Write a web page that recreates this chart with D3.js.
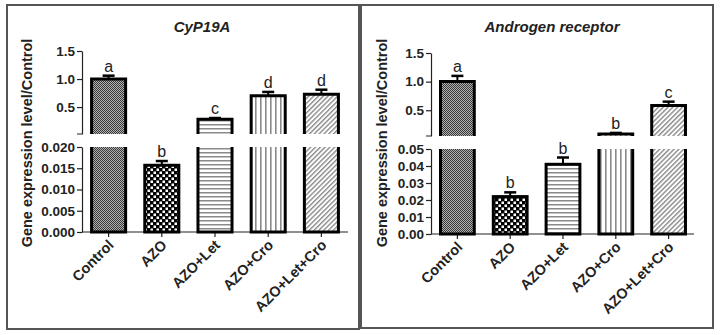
<!DOCTYPE html>
<html>
<head>
<script src="https://d3js.org/d3.v7.min.js"></script>
<style>
  body { margin: 0; background: #fff; }
  text { font-family: Arial, "Liberation Sans", sans-serif; fill: #222; }
</style>
</head>
<body>
<svg width="721" height="335"></svg>
<script>
"use strict";

var groups = ["Control", "AZO", "AZO+Let", "AZO+Cro", "AZO+Let+Cro"];

var cypMean = [1.0, 0.0157, 0.285, 0.70, 0.73];
var cypErr = [0.06, 0.001, 0.02, 0.07, 0.08];
var cypLetters = ["a", "b", "c", "d", "d"];
var cypUpperTicks = [0.5, 1.0, 1.5];
var cypLowerTicks = [0, 0.005, 0.01, 0.015, 0.02];

var arMean = [1.0, 0.022, 0.041, 0.086, 0.585];
var arErr = [0.10, 0.0025, 0.004, 0.018, 0.065];
var arLetters = ["a", "b", "b", "b", "c"];
var arUpperTicks = [0.5, 1.0, 1.5];
var arLowerTicks = [0, 0.01, 0.02, 0.03, 0.04, 0.05];

var patterns = ["pCtrl", "pAzo", "pLet", "pCro", "pLetCro"];

var svg = d3.select("svg");
var defs = svg.append("defs");

// fine checker for control
var p = defs.append("pattern").attr("id", "pCtrl").attr("patternUnits", "userSpaceOnUse")
    .attr("width", 2).attr("height", 2);
p.append("rect").attr("width", 2).attr("height", 2).attr("fill", "#b0b0b0");
p.append("rect").attr("width", 1).attr("height", 1).attr("fill", "#3a3a3a");
p.append("rect").attr("x", 1).attr("y", 1).attr("width", 1).attr("height", 1).attr("fill", "#3a3a3a");

// coarse checker for AZO
p = defs.append("pattern").attr("id", "pAzo").attr("patternUnits", "userSpaceOnUse")
    .attr("width", 6).attr("height", 6);
p.append("rect").attr("width", 6).attr("height", 6).attr("fill", "#000");
p.append("rect").attr("x", 0.5).attr("y", 0.5).attr("width", 2.5).attr("height", 2.5).attr("fill", "#fff");
p.append("rect").attr("x", 3.5).attr("y", 3.5).attr("width", 2.5).attr("height", 2.5).attr("fill", "#fff");

// horizontal lines
p = defs.append("pattern").attr("id", "pLet").attr("patternUnits", "userSpaceOnUse")
    .attr("width", 4).attr("height", 4);
p.append("rect").attr("width", 4).attr("height", 4).attr("fill", "#fff");
p.append("rect").attr("width", 4).attr("height", 1.5).attr("fill", "#8a8a8a");

// vertical lines
p = defs.append("pattern").attr("id", "pCro").attr("patternUnits", "userSpaceOnUse")
    .attr("width", 5).attr("height", 5);
p.append("rect").attr("width", 5).attr("height", 5).attr("fill", "#fff");
p.append("rect").attr("width", 1.6).attr("height", 5).attr("fill", "#8a8a8a");

// diagonal hatch
p = defs.append("pattern").attr("id", "pLetCro").attr("patternUnits", "userSpaceOnUse")
    .attr("width", 3.4).attr("height", 8).attr("patternTransform", "rotate(45)");
p.append("rect").attr("width", 3.4).attr("height", 8).attr("fill", "#fff");
p.append("rect").attr("width", 1.4).attr("height", 8).attr("fill", "#8a8a8a");

function panel(cfg) {
    var g = svg.append("g");

    g.append("rect")
        .attr("x", cfg.frame[0]).attr("y", cfg.frame[1])
        .attr("width", cfg.frame[2]).attr("height", cfg.frame[3])
        .attr("fill", "none").attr("stroke", "#555").attr("stroke-width", 2);

    var x = d3.scaleBand().domain(groups).range(cfg.xRange).paddingInner(0.36).paddingOuter(0.18);
    var yUp = d3.scaleLinear().domain(cfg.upDomain).range(cfg.upRange);
    var yLo = d3.scaleLinear().domain(cfg.loDomain).range(cfg.loRange);
    var ax = cfg.xRange[0];
    var loMax = cfg.loDomain[1];

    // upper y axis
    var up = g.append("g").attr("transform", "translate(" + ax + ",0)")
        .call(d3.axisLeft(yUp).tickValues(cfg.upTicks).tickFormat(d3.format(".1f")).tickSize(5).tickSizeOuter(0));
    up.append("line").attr("x1", -5).attr("x2", 0)
        .attr("y1", cfg.upRange[0]).attr("y2", cfg.upRange[0]).attr("stroke", "#222");
    // lower y axis
    var lo = g.append("g").attr("transform", "translate(" + ax + ",0)")
        .call(d3.axisLeft(yLo).tickValues(cfg.loTicks).tickFormat(d3.format(cfg.loFmt)).tickSize(5).tickSizeOuter(0));
    [up, lo].forEach(function(a) {
        a.select(".domain").attr("stroke", "#222").attr("stroke-width", 1.2);
        a.selectAll(".tick line").attr("stroke", "#222").attr("stroke-width", 1.2);
        a.selectAll(".tick text").attr("font-size", 13.5).attr("font-weight", "bold")
            .attr("fill", "#222").attr("x", -7);
    });

    // x axis
    var xa = g.append("g").attr("transform", "translate(0," + cfg.loRange[0] + ")")
        .call(d3.axisBottom(x).tickSize(5).tickSizeOuter(0));
    xa.select(".domain").attr("stroke", "#222").attr("stroke-width", 1.2)
        .attr("d", "M" + ax + ",0H" + cfg.xEnd);
    xa.selectAll(".tick line").attr("stroke", "#222").attr("stroke-width", 1.2);
    xa.selectAll(".tick text")
        .attr("font-size", 14.5).attr("font-weight", "bold").attr("fill", "#222")
        .attr("text-anchor", "end").attr("dy", null).attr("y", 0).attr("x", 0)
        .attr("transform", "translate(6,14) rotate(-45)");

    var bw = x.bandwidth();
    cfg.mean.forEach(function(v, i) {
        var x0 = x(groups[i]), x1 = x0 + bw;
        var fill = "url(#" + patterns[i] + ")";
        var yBase = yLo(0);
        var top, errTop;
        if (v > loMax) {
            var yb = yLo(loMax), yt = yUp(v), yu = yUp(cfg.upDomain[0]);
            g.append("rect").attr("x", x0).attr("y", yb).attr("width", bw).attr("height", yBase - yb).attr("fill", fill);
            g.append("rect").attr("x", x0).attr("y", yt).attr("width", bw).attr("height", yu - yt).attr("fill", fill);
            g.append("path").attr("d", "M" + x0 + "," + yb + "V" + yBase + "H" + x1 + "V" + yb)
                .attr("fill", "none").attr("stroke", "#000").attr("stroke-width", 3);
            g.append("path").attr("d", "M" + x0 + "," + yu + "V" + yt + "H" + x1 + "V" + yu)
                .attr("fill", "none").attr("stroke", "#000").attr("stroke-width", 3);
            top = yt;
            errTop = yUp(v + cfg.err[i]);
        } else {
            top = yLo(v);
            g.append("rect").attr("x", x0).attr("y", top).attr("width", bw).attr("height", yBase - top)
                .attr("fill", fill).attr("stroke", "#000").attr("stroke-width", 3);
            errTop = yLo(v + cfg.err[i]);
        }
        var cx = x0 + bw / 2;
        g.append("line").attr("x1", cx).attr("x2", cx).attr("y1", top).attr("y2", errTop)
            .attr("stroke", "#000").attr("stroke-width", 2);
        g.append("line").attr("x1", cx - 6).attr("x2", cx + 6).attr("y1", errTop).attr("y2", errTop)
            .attr("stroke", "#000").attr("stroke-width", 2.5);
        g.append("text").attr("x", cx).attr("y", errTop - 4).attr("text-anchor", "middle")
            .attr("font-size", 16).text(cfg.letters[i]);
    });

    g.append("text").attr("x", cfg.titleX).attr("y", 32).attr("text-anchor", "middle")
        .attr("font-size", 15).attr("font-weight", "bold").attr("font-style", "italic")
        .text(cfg.title);

    g.append("text").attr("transform", "translate(" + cfg.labelX + ",143) rotate(-90)")
        .attr("text-anchor", "middle").attr("font-size", 14.5).attr("font-weight", "bold")
        .text("Gene expression level/Control");
}

panel({
    frame: [7, 5, 352, 324],
    xRange: [82, 348], xEnd: 348,
    upDomain: [0.02, 1.5], upRange: [134, 51],
    loDomain: [0, 0.02], loRange: [232, 147],
    upTicks: cypUpperTicks, loTicks: cypLowerTicks, loFmt: ".3f",
    mean: cypMean, err: cypErr, letters: cypLetters,
    title: "CyP19A", titleX: 202, labelX: 32
});

panel({
    frame: [361, 5, 352, 323],
    xRange: [431, 695], xEnd: 694,
    upDomain: [0.05, 1.5], upRange: [136, 53],
    loDomain: [0, 0.05], loRange: [234, 149],
    upTicks: arUpperTicks, loTicks: arLowerTicks, loFmt: ".2f",
    mean: arMean, err: arErr, letters: arLetters,
    title: "Androgen receptor", titleX: 552, labelX: 387
});
</script>
</body>
</html>
